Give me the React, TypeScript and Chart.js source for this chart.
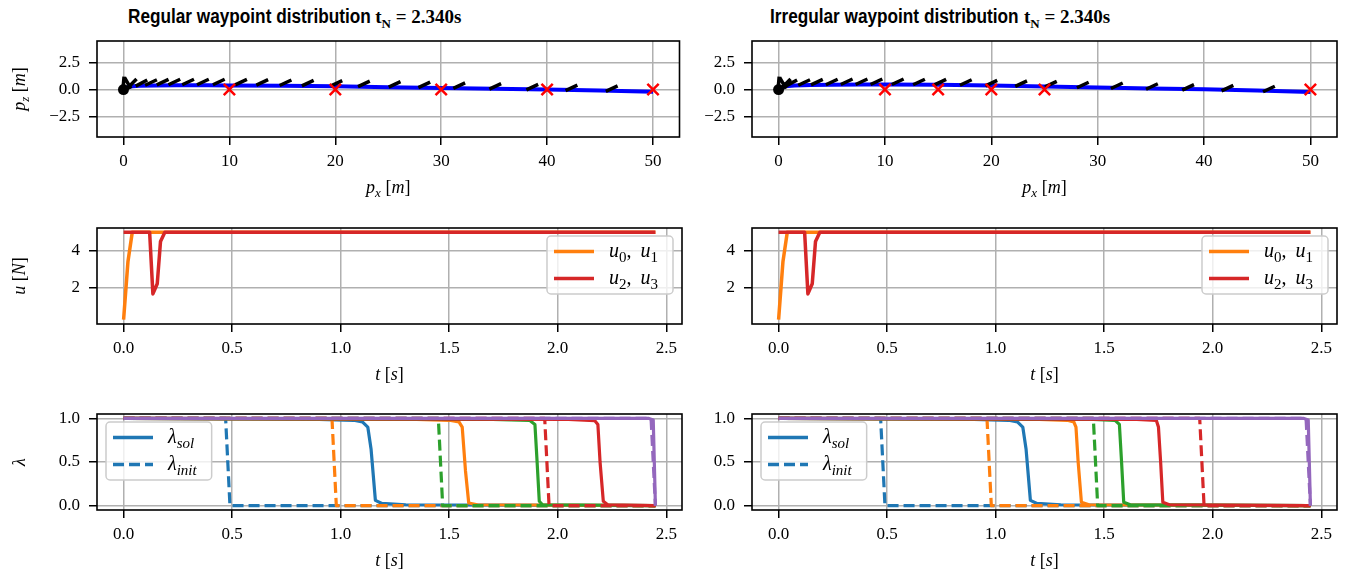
import React, { useEffect, useRef } from "react";
import { Chart, registerables } from "chart.js";
Chart.register(...registerables);

// ---------------- colours / fonts ----------------
const C0 = "#1f77b4";
const C1 = "#ff7f0e";
const C2 = "#2ca02c";
const C3 = "#d62728";
const C4 = "#9467bd";
const GRID = "#b0b0b0";
const SERIF = '"Liberation Serif", serif';
const SANS = '"Liberation Sans", sans-serif';

// ---------------- titles ----------------
const TITLE_REG = "Regular waypoint distribution";
const TITLE_IRR = "Irregular waypoint distribution";
const TITLE_T = "t";
const TITLE_SUB = "N";
const TITLE_VAL = " = 2.340s";

// ---------------- ticks ----------------
const pxTicks = [0, 10, 20, 30, 40, 50];
const pxTickLabels = ["0", "10", "20", "30", "40", "50"];
const pzTicks = [-2.5, 0, 2.5];
const pzTickLabels = ["\u22122.5", "0.0", "2.5"];
const tTicks = [0, 0.5, 1, 1.5, 2, 2.5];
const tTickLabels = ["0.0", "0.5", "1.0", "1.5", "2.0", "2.5"];
const uTicks = [2, 4];
const uTickLabels = ["2", "4"];
const lamTicks = [0, 0.5, 1];
const lamTickLabels = ["0.0", "0.5", "1.0"];

// ---------------- position plot: regular ----------------
const trajXReg = [0, 0.2, 0.6, 1.5, 3, 5, 8, 10, 15, 20, 25, 30, 35, 40, 45, 50];
const trajYReg = [0, 0.15, 0.28, 0.35, 0.38, 0.4, 0.4, 0.38, 0.34, 0.3, 0.22, 0.14, 0.07, 0.0, -0.1, -0.2];
const wpXReg = [10, 20, 30, 40, 50];
const wpYReg = [0, 0, 0, 0, 0];
const attXReg = [0.0, 0.4, 0.8, 1.7, 2.6, 3.7, 4.8, 6.1, 7.5, 9.0, 11.1, 13.1, 15.3, 17.4, 20.1, 22.7, 25.6, 28.4, 31.7, 35.1, 38.6, 42.3, 46.1];
const attYReg = [0.6, 0.6, 0.55, 0.6, 0.65, 0.68, 0.7, 0.7, 0.7, 0.7, 0.68, 0.66, 0.63, 0.6, 0.57, 0.53, 0.48, 0.43, 0.36, 0.3, 0.23, 0.15, 0.08];
const attAngReg = [85, 120, 45, 28, 25, 25, 25, 25, 25, 25, 25, 25, 25, 25, 25, 25, 25, 25, 25, 25, 25, 25, 25];

// ---------------- position plot: irregular ----------------
const trajXIrr = [0, 0.2, 0.6, 1.5, 3, 5, 8, 10, 15, 20, 25, 30, 35, 40, 45, 50];
const trajYIrr = [0, 0.15, 0.3, 0.38, 0.42, 0.45, 0.47, 0.47, 0.45, 0.38, 0.28, 0.18, 0.1, 0.02, -0.1, -0.22];
const wpXIrr = [10, 15, 20, 25, 50];
const wpYIrr = [0, 0, 0, 0, 0];
const attXIrr = [0.0, 0.4, 0.7, 1.2, 2.4, 3.6, 5.0, 6.4, 7.8, 9.2, 11.2, 13.2, 15.2, 17.6, 20.0, 22.8, 25.6, 28.6, 31.8, 35.1, 38.5, 42.2, 46.1];
const attYIrr = [0.6, 0.6, 0.55, 0.6, 0.65, 0.68, 0.7, 0.72, 0.72, 0.72, 0.72, 0.7, 0.68, 0.65, 0.6, 0.55, 0.5, 0.42, 0.35, 0.28, 0.2, 0.13, 0.05];
const attAngIrr = [85, 120, 45, 28, 25, 25, 25, 25, 25, 25, 25, 25, 25, 25, 25, 25, 25, 25, 25, 25, 25, 25, 25];

const startX = [0];
const startY = [0];

// ---------------- thrust ----------------
const tU01Reg = [0, 0.02, 0.04, 2.45];
const u01Reg = [0.25, 3.4, 5, 5];
const tU23Reg = [0, 0.12, 0.135, 0.155, 0.17, 0.19, 2.45];
const u23Reg = [5, 5, 1.65, 2.2, 4.5, 5, 5];
const tU01Irr = [0, 0.02, 0.04, 2.45];
const u01Irr = [0.25, 3.4, 5, 5];
const tU23Irr = [0, 0.12, 0.135, 0.155, 0.17, 0.19, 2.45];
const u23Irr = [5, 5, 1.65, 2.2, 4.5, 5, 5];

// ---------------- lambda init (both) ----------------
const initT0 = [0, 0.47, 0.49, 2.45];
const init0 = [1, 1, 0, 0];
const initT1 = [0, 0.96, 0.98, 2.45];
const init1 = [1, 1, 0, 0];
const initT2 = [0, 1.45, 1.47, 2.45];
const init2 = [1, 1, 0, 0];
const initT3 = [0, 1.94, 1.96, 2.45];
const init3 = [1, 1, 0, 0];
const initT4 = [0, 2.43, 2.45];
const init4 = [1, 1, 0];

// ---------------- lambda sol regular ----------------
const solRegT0 = [0, 0.9, 1.06, 1.1, 1.125, 1.14, 1.16, 1.19, 1.3, 2.45];
const solReg0 = [1, 0.988, 0.978, 0.96, 0.9, 0.65, 0.06, 0.025, 0.01, 0];
const solRegT1 = [0, 1.35, 1.5, 1.545, 1.56, 1.575, 1.59, 1.63, 2.45];
const solReg1 = [1, 0.988, 0.978, 0.96, 0.9, 0.4, 0.03, 0.01, 0];
const solRegT2 = [0, 1.7, 1.87, 1.895, 1.905, 1.915, 1.93, 2.45];
const solReg2 = [1, 0.988, 0.978, 0.93, 0.5, 0.05, 0.01, 0];
const solRegT3 = [0, 2.05, 2.17, 2.185, 2.195, 2.21, 2.23, 2.45];
const solReg3 = [1, 0.988, 0.975, 0.93, 0.5, 0.05, 0.01, 0];
const solRegT4 = [0, 2.42, 2.44, 2.45];
const solReg4 = [1, 1, 0.98, 0];

// ---------------- lambda sol irregular ----------------
const solIrrT0 = [0, 0.9, 1.06, 1.1, 1.125, 1.14, 1.16, 1.19, 1.3, 2.45];
const solIrr0 = [1, 0.988, 0.978, 0.96, 0.9, 0.65, 0.06, 0.025, 0.01, 0];
const solIrrT1 = [0, 1.2, 1.33, 1.36, 1.37, 1.38, 1.395, 1.43, 2.45];
const solIrr1 = [1, 0.988, 0.978, 0.96, 0.9, 0.5, 0.04, 0.01, 0];
const solIrrT2 = [0, 1.45, 1.55, 1.57, 1.58, 1.59, 1.62, 2.45];
const solIrr2 = [1, 0.988, 0.978, 0.93, 0.5, 0.04, 0.01, 0];
const solIrrT3 = [0, 1.65, 1.74, 1.75, 1.76, 1.77, 1.8, 2.45];
const solIrr3 = [1, 0.988, 0.978, 0.9, 0.5, 0.04, 0.01, 0];
const solIrrT4 = [0, 2.42, 2.44, 2.45];
const solIrr4 = [1, 1, 0.98, 0];

// ---------------- text runs ----------------
type Run = { t: string; it?: boolean; sub?: boolean };
const LBL_PX: Run[] = [{ t: "p", it: true }, { t: "x", it: true, sub: true }, { t: " [" }, { t: "m", it: true }, { t: "]" }];
const LBL_PZ: Run[] = [{ t: "p", it: true }, { t: "z", it: true, sub: true }, { t: " [" }, { t: "m", it: true }, { t: "]" }];
const LBL_T: Run[] = [{ t: "t", it: true }, { t: " [" }, { t: "s", it: true }, { t: "]" }];
const LBL_U: Run[] = [{ t: "u", it: true }, { t: " [" }, { t: "N", it: true }, { t: "]" }];
const LBL_LAM: Run[] = [{ t: "\u03bb", it: true }];
const LEG_U01: Run[] = [{ t: "u", it: true }, { t: "0", sub: true }, { t: ",\u2009 " }, { t: "u", it: true }, { t: "1", sub: true }];
const LEG_U23: Run[] = [{ t: "u", it: true }, { t: "2", sub: true }, { t: ",\u2009 " }, { t: "u", it: true }, { t: "3", sub: true }];
const LEG_SOL: Run[] = [{ t: "\u03bb", it: true }, { t: "sol", it: true, sub: true }];
const LEG_INIT: Run[] = [{ t: "\u03bb", it: true }, { t: "init", it: true, sub: true }];

const DASH = [11, 5];

function fontFor(r: Run, size: number) {
  const s = r.sub ? Math.round(size * 0.74) : size;
  return `${r.it ? "italic " : ""}${s}px ${SERIF}`;
}
function runsWidth(ctx: CanvasRenderingContext2D, runs: Run[], size: number) {
  let w = 0;
  for (const r of runs) {
    ctx.font = fontFor(r, size);
    w += ctx.measureText(r.t).width;
  }
  return w;
}
function drawRuns(ctx: CanvasRenderingContext2D, runs: Run[], x: number, y: number, size: number) {
  let cx = x;
  ctx.textBaseline = "alphabetic";
  ctx.textAlign = "left";
  ctx.fillStyle = "#000";
  for (const r of runs) {
    ctx.font = fontFor(r, size);
    ctx.fillText(r.t, cx, r.sub ? y + size * 0.22 : y);
    cx += ctx.measureText(r.t).width;
  }
}

function pts(xs: number[], ys: number[]) {
  return xs.map((x, i) => ({ x, y: ys[i] }));
}
function lineDs(xs: number[], ys: number[], color: string, width: number, dash: number[], order: number) {
  return {
    data: pts(xs, ys),
    borderColor: color,
    backgroundColor: color,
    borderWidth: width,
    borderDash: dash,
    pointRadius: 0,
    showLine: true,
    order,
    tension: 0,
    borderJoinStyle: "round",
    borderCapStyle: "butt",
  };
}

type LegendSpec = { corner: "tl" | "tr"; entries: { color: string; dash: number[]; runs: Run[] }[] };
type Glyphs = { xs: number[]; ys: number[]; angs: number[]; after: number };
type PanelSpec = {
  x: number; y: number; w: number; h: number;
  L: number; T: number; R: number; B: number;
  datasets: any[];
  xMin: number; xMax: number; xTicks: number[]; xTickLabels: string[];
  yMin: number; yMax: number; yTicks: number[]; yTickLabels: string[];
  xLabel: Run[]; yLabel?: Run[];
  legend?: LegendSpec;
  glyphs?: Glyphs;
};

const TICK_FONT = { family: SERIF, size: 17 };
const LABEL_SIZE = 18;
const LEGEND_SIZE = 20;

function lookupLabel(ticks: number[], labels: string[], v: number) {
  const i = ticks.findIndex((t) => Math.abs(t - v) < 1e-9);
  return i >= 0 ? labels[i] : "";
}

function drawLegend(ctx: CanvasRenderingContext2D, area: any, leg: LegendSpec) {
  const size = LEGEND_SIZE;
  const handle = 40, padL = 7, gap = 15, padR = 15, rowH = 27;
  let textW = 0;
  for (const e of leg.entries) textW = Math.max(textW, runsWidth(ctx, e.runs, size));
  const w = padL + handle + gap + textW + padR;
  const h = rowH * leg.entries.length + 4;
  const x0 = leg.corner === "tl" ? area.left + 9 : area.right - 9 - w;
  const y0 = area.top + 8;
  ctx.save();
  ctx.beginPath();
  (ctx as any).roundRect(x0, y0, w, h, 4);
  ctx.fillStyle = "rgba(255,255,255,0.8)";
  ctx.fill();
  ctx.strokeStyle = "#cccccc";
  ctx.lineWidth = 1.5;
  ctx.stroke();
  leg.entries.forEach((e, i) => {
    const cy = y0 + 2 + rowH * (i + 0.5);
    ctx.beginPath();
    ctx.setLineDash(e.dash);
    ctx.strokeStyle = e.color;
    ctx.lineWidth = 3.5;
    ctx.moveTo(x0 + padL, cy);
    ctx.lineTo(x0 + padL + handle, cy);
    ctx.stroke();
    ctx.setLineDash([]);
    drawRuns(ctx, e.runs, x0 + padL + handle + gap, cy + size * 0.28, size);
  });
  ctx.restore();
}

function buildConfig(spec: PanelSpec): any {
  const decor = {
    id: "decor",
    afterDatasetDraw(chart: any, args: any) {
      const g = spec.glyphs;
      if (!g || args.index !== g.after) return;
      const ctx: CanvasRenderingContext2D = chart.ctx;
      const a = chart.chartArea;
      const sx = chart.scales.x, sy = chart.scales.y;
      ctx.save();
      ctx.beginPath();
      ctx.rect(a.left, a.top, a.right - a.left, a.bottom - a.top);
      ctx.clip();
      ctx.strokeStyle = "#000";
      ctx.lineWidth = 3.5;
      ctx.lineCap = "butt";
      ctx.beginPath();
      const HALF = 6.5;
      g.xs.forEach((gx, i) => {
        const px = sx.getPixelForValue(gx);
        const py = sy.getPixelForValue(g.ys[i]);
        const ang = (g.angs[i] * Math.PI) / 180;
        const dx = Math.cos(ang) * HALF, dy = -Math.sin(ang) * HALF;
        ctx.moveTo(px - dx, py - dy);
        ctx.lineTo(px + dx, py + dy);
      });
      ctx.stroke();
      ctx.restore();
    },
    afterDatasetsDraw(chart: any) {
      const ctx: CanvasRenderingContext2D = chart.ctx;
      const a = chart.chartArea;
      ctx.save();
      ctx.strokeStyle = "#000";
      ctx.lineWidth = 1.6;
      ctx.strokeRect(a.left, a.top, a.right - a.left, a.bottom - a.top);
      ctx.restore();
      if (spec.legend) drawLegend(ctx, a, spec.legend);
    },
    afterDraw(chart: any) {
      const ctx: CanvasRenderingContext2D = chart.ctx;
      const a = chart.chartArea;
      ctx.save();
      const xw = runsWidth(ctx, spec.xLabel, LABEL_SIZE);
      drawRuns(ctx, spec.xLabel, (a.left + a.right) / 2 - xw / 2, a.bottom + 56, LABEL_SIZE);
      if (spec.yLabel) {
        const yw = runsWidth(ctx, spec.yLabel, LABEL_SIZE);
        ctx.translate(19, (a.top + a.bottom) / 2);
        ctx.rotate(-Math.PI / 2);
        drawRuns(ctx, spec.yLabel, -yw / 2, LABEL_SIZE * 0.32, LABEL_SIZE);
      }
      ctx.restore();
    },
  };

  const gridOpts = { color: GRID, lineWidth: 1.5, tickColor: "#000", tickLength: 8, tickWidth: 1.5, drawTicks: true };

  return {
    type: "scatter",
    data: { datasets: spec.datasets },
    options: {
      animation: false,
      responsive: false,
      devicePixelRatio: 1,
      events: [],
      layout: { padding: { left: 0, top: spec.T, right: spec.R, bottom: 0 } },
      plugins: { legend: { display: false }, tooltip: { enabled: false }, title: { display: false } },
      scales: {
        x: {
          type: "linear",
          min: spec.xMin,
          max: spec.xMax,
          afterBuildTicks: (ax: any) => {
            ax.ticks = spec.xTicks.map((v) => ({ value: v }));
          },
          afterFit: (ax: any) => {
            ax.height = spec.B;
            ax.paddingLeft = 0;
            ax.paddingRight = 0;
          },
          ticks: {
            autoSkip: false,
            maxRotation: 0,
            font: TICK_FONT,
            color: "#000",
            padding: 6,
            callback: (v: number) => lookupLabel(spec.xTicks, spec.xTickLabels, v),
          },
          grid: gridOpts,
          border: { display: false },
        },
        y: {
          type: "linear",
          min: spec.yMin,
          max: spec.yMax,
          afterBuildTicks: (ax: any) => {
            ax.ticks = spec.yTicks.map((v) => ({ value: v }));
          },
          afterFit: (ax: any) => {
            ax.width = spec.L;
            ax.paddingTop = 0;
            ax.paddingBottom = 0;
          },
          ticks: {
            autoSkip: false,
            font: TICK_FONT,
            color: "#000",
            padding: 9,
            callback: (v: number) => lookupLabel(spec.yTicks, spec.yTickLabels, v),
          },
          grid: gridOpts,
          border: { display: false },
        },
      },
    },
    plugins: [decor],
  };
}

function Panel({ spec }: { spec: PanelSpec }) {
  const ref = useRef<HTMLCanvasElement>(null);
  useEffect(() => {
    const chart = new Chart(ref.current as HTMLCanvasElement, buildConfig(spec));
    return () => chart.destroy();
  }, []);
  return (
    <canvas
      ref={ref}
      width={spec.w}
      height={spec.h}
      style={{ position: "absolute", left: spec.x, top: spec.y, width: spec.w, height: spec.h }}
    />
  );
}

// ---------------- layout ----------------
const COLS = [
  { x: 0, w: 690, L: 97, R: 8 },
  { x: 690, w: 665, L: 62, R: 18 },
];
const ROWS = [
  { y: 30, h: 170, T: 11, B: 63 },
  { y: 200, h: 190, T: 28, B: 66 },
  { y: 390, h: 186, T: 24, B: 66 },
];

function posDatasets(tx: number[], ty: number[], wx: number[], wy: number[]) {
  return [
    { data: pts(wx, wy), pointStyle: "crossRot", pointRadius: 8, borderColor: "#ff0000", backgroundColor: "#ff0000", borderWidth: 2.5, showLine: false, order: 0 },
    { data: pts(startX, startY), pointStyle: "circle", pointRadius: 5.5, borderColor: "#000", backgroundColor: "#000", borderWidth: 0, showLine: false, order: 1 },
    { ...lineDs(tx, ty, "#0000ff", 4, [], 2) },
  ];
}

function uDatasets(t01: number[], u01: number[], t23: number[], u23: number[]) {
  return [lineDs(t23, u23, C3, 3.5, [], 0), lineDs(t01, u01, C1, 3.5, [], 1)];
}

function lamDatasets(sol: number[][][]) {
  const inits = [
    [initT0, init0],
    [initT1, init1],
    [initT2, init2],
    [initT3, init3],
    [initT4, init4],
  ];
  const colors = [C0, C1, C2, C3, C4];
  const ds: any[] = [];
  for (let k = 0; k < 5; k++) {
    ds.push(lineDs(sol[k][0], sol[k][1], colors[k], 3.2, [], 20 - 2 * k));
    ds.push(lineDs(inits[k][0], inits[k][1], colors[k], 3.2, DASH, 19 - 2 * k));
  }
  return ds;
}

function makeSpecs(): PanelSpec[] {
  const specs: PanelSpec[] = [];
  for (let c = 0; c < 2; c++) {
    const col = COLS[c];
    const reg = c === 0;
    specs.push({
      x: col.x, y: ROWS[0].y, w: col.w, h: ROWS[0].h, L: col.L, T: ROWS[0].T, R: col.R, B: ROWS[0].B,
      datasets: reg ? posDatasets(trajXReg, trajYReg, wpXReg, wpYReg) : posDatasets(trajXIrr, trajYIrr, wpXIrr, wpYIrr),
      xMin: -2.5, xMax: 52.5, xTicks: pxTicks, xTickLabels: pxTickLabels,
      yMin: -4.4, yMax: 4.5, yTicks: pzTicks, yTickLabels: pzTickLabels,
      xLabel: LBL_PX, yLabel: reg ? LBL_PZ : undefined,
      glyphs: reg
        ? { xs: attXReg, ys: attYReg, angs: attAngReg, after: 2 }
        : { xs: attXIrr, ys: attYIrr, angs: attAngIrr, after: 2 },
    });
    specs.push({
      x: col.x, y: ROWS[1].y, w: col.w, h: ROWS[1].h, L: col.L, T: ROWS[1].T, R: col.R, B: ROWS[1].B,
      datasets: reg ? uDatasets(tU01Reg, u01Reg, tU23Reg, u23Reg) : uDatasets(tU01Irr, u01Irr, tU23Irr, u23Irr),
      xMin: -0.1225, xMax: 2.5725, xTicks: tTicks, xTickLabels: tTickLabels,
      yMin: 0.0125, yMax: 5.2375, yTicks: uTicks, yTickLabels: uTickLabels,
      xLabel: LBL_T, yLabel: reg ? LBL_U : undefined,
      legend: {
        corner: "tr",
        entries: [
          { color: C1, dash: [], runs: LEG_U01 },
          { color: C3, dash: [], runs: LEG_U23 },
        ],
      },
    });
    specs.push({
      x: col.x, y: ROWS[2].y, w: col.w, h: ROWS[2].h, L: col.L, T: ROWS[2].T, R: col.R, B: ROWS[2].B,
      datasets: reg
        ? lamDatasets([[solRegT0, solReg0], [solRegT1, solReg1], [solRegT2, solReg2], [solRegT3, solReg3], [solRegT4, solReg4]])
        : lamDatasets([[solIrrT0, solIrr0], [solIrrT1, solIrr1], [solIrrT2, solIrr2], [solIrrT3, solIrr3], [solIrrT4, solIrr4]]),
      xMin: -0.1225, xMax: 2.5725, xTicks: tTicks, xTickLabels: tTickLabels,
      yMin: -0.05, yMax: 1.05, yTicks: lamTicks, yTickLabels: lamTickLabels,
      xLabel: LBL_T, yLabel: reg ? LBL_LAM : undefined,
      legend: {
        corner: "tl",
        entries: [
          { color: C0, dash: [], runs: LEG_SOL },
          { color: C0, dash: DASH, runs: LEG_INIT },
        ],
      },
    });
  }
  return specs;
}

const SPECS = makeSpecs();

function Title({ left, text }: { left: number; text: string }) {
  return (
    <div
      style={{
        position: "absolute",
        left,
        top: 3,
        textAlign: "left",
        lineHeight: "26px",
        whiteSpace: "nowrap",
        color: "#000",
        display: "flex",
        alignItems: "baseline",
      }}
    >
      <span
        style={{
          fontFamily: SANS,
          fontWeight: 700,
          fontSize: 20,
          display: "inline-block",
          transform: "scaleX(0.86)",
          transformOrigin: "left center",
          marginRight: -41,
        }}
      >
        {text}
      </span>
      <span style={{ fontFamily: SERIF, fontWeight: 700, fontSize: 19, marginLeft: 6 }}>
        {TITLE_T}
        <sub style={{ fontSize: 13, lineHeight: 0 }}>{TITLE_SUB}</sub>
        {TITLE_VAL}
      </span>
    </div>
  );
}

export default function App() {
  return (
    <div style={{ position: "absolute", left: 0, top: 0, width: 1355, height: 576, background: "#fff", overflow: "hidden" }}>
      <Title left={128} text={TITLE_REG} />
      <Title left={770} text={TITLE_IRR} />
      {SPECS.map((s, i) => (
        <Panel key={i} spec={s} />
      ))}
    </div>
  );
}
